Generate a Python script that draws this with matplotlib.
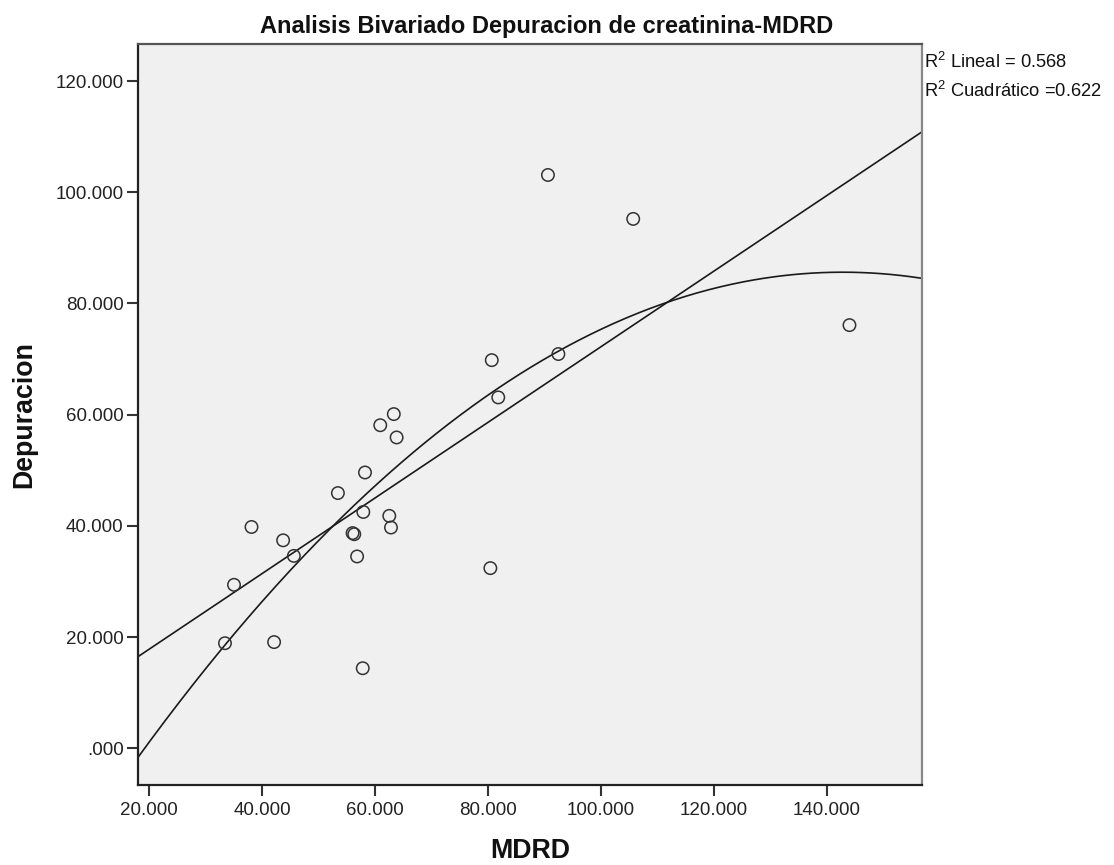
import numpy as np
import matplotlib
matplotlib.use("Agg")
import matplotlib.pyplot as plt

# ---- data ----
mdrd = [81.8, 63.3, 60.9, 63.8, 58.2, 53.4, 57.9, 62.5, 62.8, 38.1,
        43.7, 56.0, 56.3, 45.6, 56.8, 35.0, 80.4, 33.4, 42.1, 57.8,
        90.6, 105.7, 144.0, 80.65, 92.45]
depuracion = [63.1, 60.1, 58.1, 55.9, 49.6, 45.9, 42.5, 41.8, 39.7, 39.8,
              37.4, 38.7, 38.5, 34.6, 34.5, 29.4, 32.4, 18.9, 19.1, 14.4,
              103.1, 95.2, 76.1, 69.8, 70.9]
x_ticks = [20, 40, 60, 80, 100, 120, 140]
x_ticklabels = ["20.000", "40.000", "60.000", "80.000", "100.000", "120.000", "140.000"]
y_ticks = [0, 20, 40, 60, 80, 100, 120]
y_ticklabels = [".000", "20.000", "40.000", "60.000", "80.000", "100.000", "120.000"]
title = "Analisis Bivariado Depuracion de creatinina-MDRD"
xlabel = "MDRD"
ylabel = "Depuracion"
r2_lines = [r"R$^{2}$ Lineal = 0.568", r"R$^{2}$ Cuadrático =0.622"]

plt.rcParams["font.family"] = ["Liberation Sans", "DejaVu Sans"]
plt.rcParams["mathtext.fontset"] = "custom"
plt.rcParams["mathtext.rm"] = "Liberation Sans"
plt.rcParams["mathtext.it"] = "Liberation Sans"
plt.rcParams["mathtext.bf"] = "Liberation Sans:bold"

W, H = 1114, 865
fig = plt.figure(figsize=(W / 100, H / 100), dpi=100)
fig.patch.set_facecolor("white")

L, R, B, T = 138.3, 922.3, 785.0, 44.3
ax = fig.add_axes([L / W, (H - B) / H, (R - L) / W, (B - T) / H])
ax.set_facecolor("#f0f0f0")
xlim = (18.05, 156.9)
ylim = (-6.6, 126.6)
ax.set_xlim(*xlim)
ax.set_ylim(*ylim)

x = np.array(mdrd)
y = np.array(depuracion)
xs = np.linspace(xlim[0], xlim[1], 400)
lin = np.polyfit(x, y, 1)
quad = np.polyfit(x, y, 2)
ax.plot(xs, np.polyval(lin, xs), color="#1a1a1a", lw=1.2, zorder=2)
ax.plot(xs, np.polyval(quad, xs), color="#1a1a1a", lw=1.2, zorder=2)

ax.scatter(x, y, s=80, facecolors="none", edgecolors="#333333", linewidths=1.1, zorder=3)

ax.set_xticks(x_ticks)
ax.set_xticklabels(x_ticklabels)
ax.set_yticks(y_ticks)
ax.set_yticklabels(y_ticklabels)
ax.tick_params(axis="both", direction="out", length=8, width=1.5, color="#333333",
               labelsize=13.5, labelcolor="#222222")
ax.tick_params(axis="y", pad=2.5)
ax.tick_params(axis="x", pad=4.5)

for side in ["left", "bottom"]:
    ax.spines[side].set_color("#222222")
    ax.spines[side].set_linewidth(1.6)
ax.spines["top"].set_color("#555555")
ax.spines["top"].set_linewidth(1.6)
ax.spines["right"].set_color("#888888")
ax.spines["right"].set_linewidth(1.6)

fig.text(546.7 / W, (H - 33) / H, title, ha="center", va="baseline",
         fontsize=17, fontweight="bold", color="#111111")
fig.text((L + R) / 2 / W, 1.5 / H, xlabel, ha="center", va="bottom",
         fontsize=19.3, fontweight="bold", color="#111111")
fig.text(24.5 / W, (H - 414.6) / H, ylabel, ha="center", va="center", rotation=90,
         fontsize=19.3, fontweight="bold", color="#111111")

fig.text(923.5 / W, (H - 68.3) / H, r2_lines[0], ha="left", va="baseline",
         fontsize=13.2, color="#111111")
fig.text(923.5 / W, (H - 96.7) / H, r2_lines[1], ha="left", va="baseline",
         fontsize=13.2, color="#111111")

fig.savefig("out.png", dpi=100, facecolor="white")
